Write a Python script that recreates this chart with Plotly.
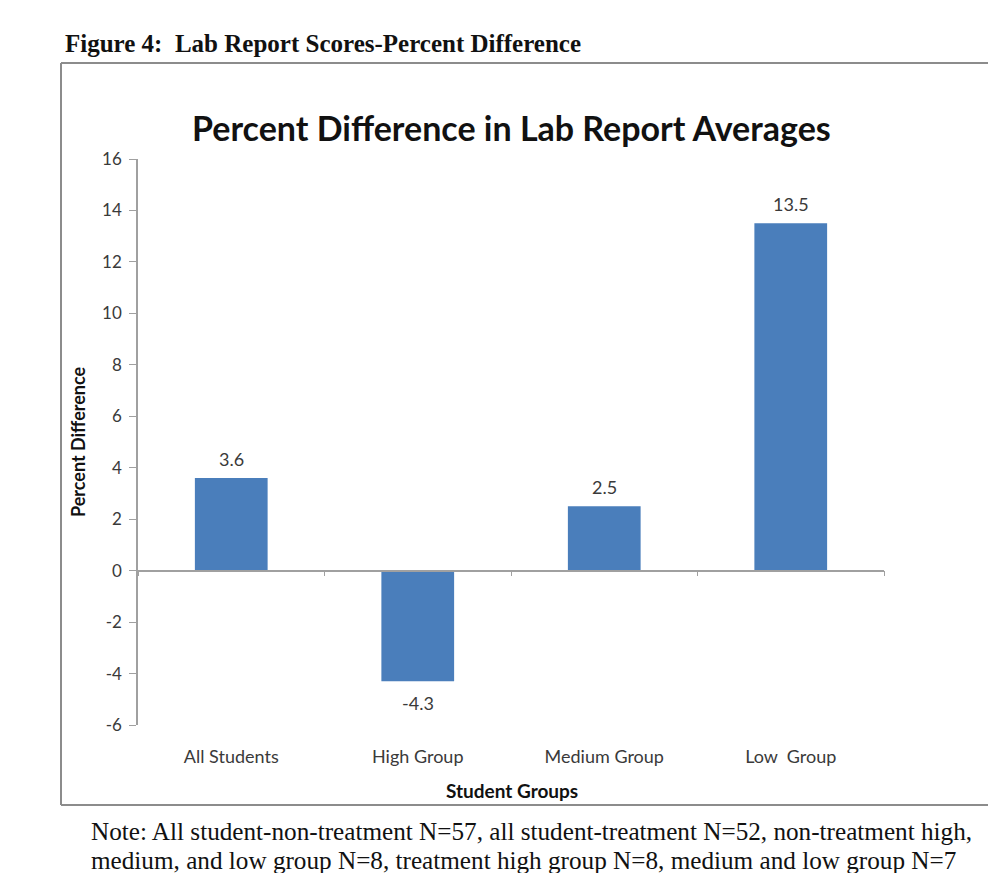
import plotly.graph_objects as go

# Data
groups = ["All Students", "High Group", "Medium Group", "Low  Group"]
pct_diff = [3.6, -4.3, 2.5, 13.5]
y_ticks = [-6, -4, -2, 0, 2, 4, 6, 8, 10, 12, 14, 16]
y_tick_text = [str(v) for v in y_ticks]  # plain hyphen for negatives

W, H = 988, 873
L, R, T, B = 138, 884, 159, 725  # plot area in pixels
PW, PH = R - L, B - T


def px(x):
    return (x - L) / PW


def py(y):
    return (B - y) / PH


SANS = "Lato, 'Open Sans', sans-serif"
SERIF = "'Liberation Serif', 'Times New Roman', serif"
GREY_TXT = "#3a3a3a"
AXIS_CLR = "#a0a0a0"

fig = go.Figure()

fig.add_trace(go.Bar(
    x=groups, y=pct_diff,
    width=0.39,
    marker=dict(color="#4a7ebb", line=dict(width=0)),
    showlegend=False,
    hoverinfo="skip",
))

# Value labels above (or below, for negatives) each bar
for g, v in zip(groups, pct_diff):
    fig.add_annotation(
        x=g, y=v, xref="x", yref="y", text=f"{v:.1f}", showarrow=False,
        yshift=19 if v >= 0 else -22,
        font=dict(family=SANS, size=18, color=GREY_TXT),
    )

# Category axis drawn along y = 0 with boundary ticks
fig.add_trace(go.Scatter(
    x=groups, y=[0] * len(groups), xaxis="x2", mode="markers",
    marker=dict(opacity=0), showlegend=False, hoverinfo="skip",
))

y_min, y_max = -6, 16
zero_pos = (0 - y_min) / (y_max - y_min)

fig.update_layout(
    width=W, height=H,
    margin=dict(l=L, r=W - R, t=T, b=H - B),
    paper_bgcolor="white", plot_bgcolor="white",
    bargap=0.6,
    xaxis=dict(
        type="category", categoryorder="array", categoryarray=groups,
        range=[-0.5, 3.5],
        showline=False, showgrid=False, zeroline=False,
        ticks="outside", ticklen=15, tickcolor="rgba(0,0,0,0)",
        tickfont=dict(family=SANS, size=18, color=GREY_TXT),
    ),
    xaxis2=dict(
        type="category", categoryorder="array", categoryarray=groups,
        range=[-0.5, 3.5], overlaying="x", anchor="free", position=zero_pos,
        showline=True, linecolor=AXIS_CLR, linewidth=1.5,
        ticks="outside", tickson="boundaries", ticklen=5, tickcolor=AXIS_CLR,
        showticklabels=False, showgrid=False, zeroline=False,
    ),
    yaxis=dict(
        range=[y_min, y_max], tickvals=y_ticks, ticktext=y_tick_text,
        showline=True, linecolor=AXIS_CLR, linewidth=1.5,
        ticks="outside", ticklen=7, tickcolor=AXIS_CLR,
        ticklabelstandoff=4,
        showgrid=False, zeroline=False,
        tickfont=dict(family=SANS, size=17, color=GREY_TXT),
    ),
    font=dict(family=SANS, color=GREY_TXT),
)

annotations = [
    dict(text="<b>Percent Difference in Lab Report Averages</b>",
         x=px(511), y=py(127), xanchor="center", yanchor="middle",
         font=dict(family=SANS, size=34, color="#111111")),
    dict(text="<b>Percent Difference</b>", textangle=-90,
         x=px(78), y=py(442), xanchor="center", yanchor="middle",
         font=dict(family=SANS, size=18, color="#111111")),
    dict(text="<b>Student Groups</b>",
         x=px(512), y=py(790), xanchor="center", yanchor="middle",
         font=dict(family=SANS, size=19, color="#111111")),
    dict(text="<b>Figure 4:  Lab Report Scores-Percent Difference</b>",
         x=px(63), y=py(43), xanchor="left", yanchor="middle",
         font=dict(family=SERIF, size=25, color="#111111")),
    dict(text="Note: All student-non-treatment N=57, all student-treatment N=52, non-treatment high,",
         x=px(89), y=py(831), xanchor="left", yanchor="middle", align="left",
         font=dict(family=SERIF, size=25.2, color="#111111")),
    dict(text="medium, and low group N=8, treatment high group N=8, medium and low group N=7",
         x=px(89), y=py(860), xanchor="left", yanchor="middle", align="left",
         font=dict(family=SERIF, size=25.2, color="#111111")),
]
for a in annotations:
    fig.add_annotation(xref="paper", yref="paper", showarrow=False, **a)

# Chart frame (runs past the right edge of the page)
frame = dict(color="#8c8c8c", width=2)
for x0, y0, x1, y1 in [(61, 63, 1000, 63), (61, 63, 61, 805), (61, 805, 1000, 805)]:
    fig.add_shape(type="line", xref="paper", yref="paper",
                  x0=px(x0), y0=py(y0), x1=px(x1), y1=py(y1), line=frame)

fig.write_html("out.html")
